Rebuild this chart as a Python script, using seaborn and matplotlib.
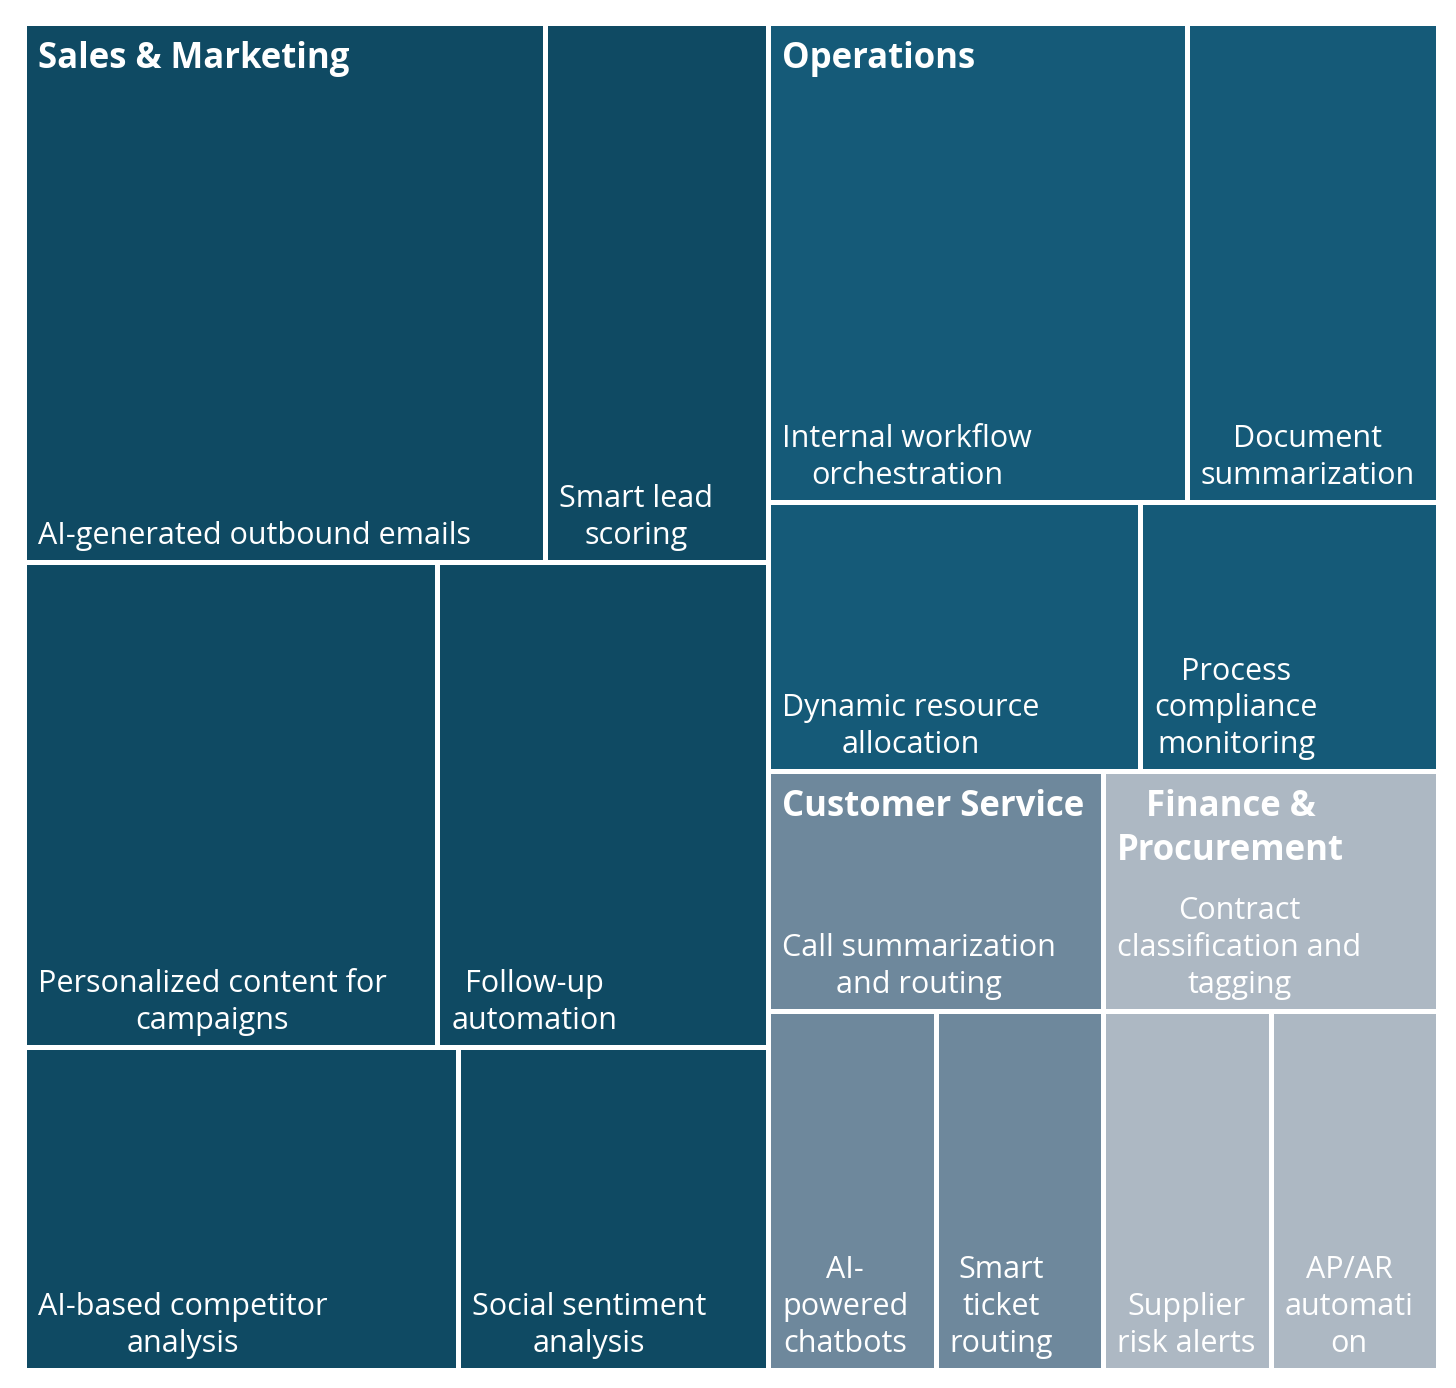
import matplotlib
matplotlib.use("Agg")
import matplotlib.pyplot as plt
import matplotlib.patches as patches
import seaborn as sns

# DATA

groups = ["Sales & Marketing", "Operations", "Customer Service", "Finance &\nProcurement"]
group_colors = ["#0f4a63", "#155a78", "#6e889c", "#adb8c3"]

sales_labels = [
    "AI-generated outbound emails",
    "Smart lead\nscoring",
    "Personalized content for\ncampaigns",
    "Follow-up\nautomation",
    "AI-based competitor\nanalysis",
    "Social sentiment\nanalysis",
]
sales_values = [14, 6, 10, 8, 7, 5]

ops_labels = [
    "Internal workflow\norchestration",
    "Document\nsummarization",
    "Dynamic resource\nallocation",
    "Process\ncompliance\nmonitoring",
]
ops_values = [10, 6, 5, 4]

cs_labels = [
    "Call summarization\nand routing",
    "AI-\npowered\nchatbots",
    "Smart\nticket\nrouting",
]
cs_values = [4, 3, 3]

fin_labels = [
    "Contract\nclassification and\ntagging",
    "Supplier\nrisk alerts",
    "AP/AR\nautomati\non",
]
fin_values = [4, 3, 3]

leaf_labels = [sales_labels, ops_labels, cs_labels, fin_labels]
leaf_values = [sales_values, ops_values, cs_values, fin_values]


# SQUARIFIED LAYOUT (d3 style)

def squarify(values, x0, y0, x1, y1, ratio=1.112):
    rects = []
    total = float(sum(values))
    i0 = 0
    n = len(values)
    while i0 < n:
        dx, dy = x1 - x0, y1 - y0
        s = values[i0]
        vmin = vmax = s
        alpha = max(dy / dx, dx / dy) / (total * ratio)
        beta = s * s * alpha
        best = max(vmax / beta, beta / vmin)
        i1 = i0 + 1
        while i1 < n:
            v = values[i1]
            s2 = s + v
            beta = s2 * s2 * alpha
            r = max(max(vmax, v) / beta, beta / min(vmin, v))
            if r > best:
                break
            s = s2
            vmin, vmax = min(vmin, v), max(vmax, v)
            best = r
            i1 += 1
        row = values[i0:i1]
        if dx < dy:
            h = dy * s / total
            xx = x0
            for v in row:
                w = dx * v / s
                rects.append((xx, y0, w, h))
                xx += w
            y0 += h
        else:
            w = dx * s / total
            yy = y0
            for v in row:
                h = dy * v / s
                rects.append((x0, yy, w, h))
                yy += h
            x0 += w
        total -= s
        i0 = i1
    return rects


sns.set_theme(style="white")
plt.rcParams['font.family'] = ['Open Sans', 'DejaVu Sans']

W, H = 1414.0, 1347.0
fig = plt.figure(figsize=(14.56, 13.88), dpi=100)
ax = fig.add_axes([24.5 / 1456, (1388 - 1370.5) / 1388, W / 1456, H / 1388])
ax.set_xlim(0, W)
ax.set_ylim(H, 0)
ax.axis("off")

gap = 2.5
pad = 11

group_totals = [sum(v) for v in leaf_values]
group_rects = squarify(group_totals, 0, 0, W, H)

for gi, (gx, gy, gw, gh) in enumerate(group_rects):
    rects = squarify(leaf_values[gi], gx, gy, gx + gw, gy + gh)
    for (x, y, w, h), label in zip(rects, leaf_labels[gi]):
        ax.add_patch(patches.Rectangle((x + gap, y + gap), w - 2 * gap, h - 2 * gap,
                                       facecolor=group_colors[gi], edgecolor="none"))
        ax.text(x + gap + pad, y + h - gap - 9, label, color="white", fontsize=22,
                ha="left", va="bottom", multialignment="center", linespacing=1.3)
    ax.text(gx + gap + pad, gy + gap + 15, groups[gi], color="white", fontsize=25,
            fontweight="bold", ha="left", va="top", multialignment="center",
            linespacing=1.28)

plt.savefig("out.png", dpi=100)
plt.close()
